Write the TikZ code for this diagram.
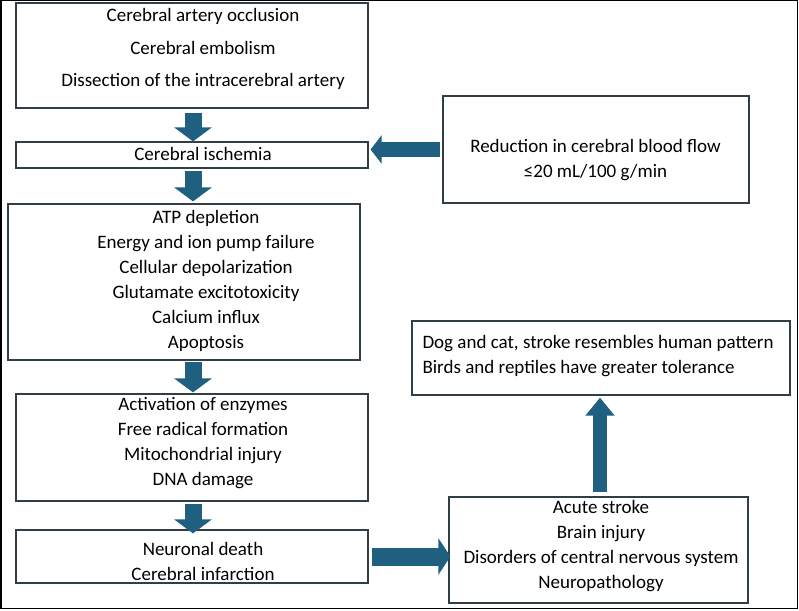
\documentclass[tikz,border=0pt]{standalone}
\usepackage{fontspec}
\setmainfont{Carlito}
\usepackage{xcolor}
\usetikzlibrary{arrows.meta}

\definecolor{flowblue}{RGB}{31,95,128}
\definecolor{boxline}{RGB}{50,62,70}

\begin{document}
\begin{tikzpicture}[
  x=1pt, y=-1pt,
  every node/.style={font=\fontsize{19}{25}\selectfont},
  box/.style={draw=boxline, line width=1.2pt, fill=white, inner sep=0pt},
  txt/.style={align=center, inner sep=0pt},
  flow/.style={draw=flowblue, line width=#1},
  flow/.default=17pt
]
\useasboundingbox (0,0) rectangle (799,610);
\draw[line width=1.5pt] (0.75,0.75) rectangle (797.5,608.5);

% left column
\node[box, minimum width=352pt, minimum height=105pt] (cause) at (192,55.5) {};
\node[box, minimum width=352pt, minimum height=26pt] (ischemia) at (192,155) {};
\node[box, minimum width=352pt, minimum height=156pt] (atp) at (184,282) {};
\node[box, minimum width=352pt, minimum height=107pt] (enzymes) at (192,447.5) {};
\node[box, minimum width=352pt, minimum height=53pt] (death) at (192,556.5) {};

\node[txt, font=\fontsize{19}{32.5}\selectfont] (causetxt) at (203,49) {Cerebral artery occlusion\\Cerebral embolism\\Dissection of the intracerebral artery};
\node[txt] (ischemiatxt) at (203,154) {Cerebral ischemia};
\node[txt] (atptxt) at (206,281) {ATP depletion\\Energy and ion pump failure\\Cellular depolarization\\Glutamate excitotoxicity\\Calcium influx\\Apoptosis};
\node[txt] (enzymestxt) at (203,443.5) {Activation of enzymes\\Free radical formation\\Mitochondrial injury\\DNA damage};
\node[txt] (deathtxt) at (203,561.5) {Neuronal death\\Cerebral infarction};

% right column
\node[box, minimum width=306pt, minimum height=107pt] (bloodflow) at (596,149.5) {};
\node[box, minimum width=378pt, minimum height=74pt] (species) at (601,358) {};
\node[box, minimum width=299pt, minimum height=106pt] (stroke) at (598.5,550) {};

\node[txt] (bloodflowtxt) at (595.5,160.5) {Reduction in cerebral blood flow\\≤20 mL/100 g/min};
\node[txt, align=left] (speciestxt) at (598,356) {Dog and cat, stroke resembles human pattern\\Birds and reptiles have greater tolerance};
\node[txt] (stroketxt) at (601,546.5) {Acute stroke\\Brain injury\\Disorders of central nervous system\\Neuropathology};

% block arrows
\coordinate (colx) at (193,0);
\coordinate (upx) at (600,0);
\draw[flow, -{Triangle[width=37pt,length=14pt]}, shorten <=4pt] (cause.south -| colx) -- (ischemia.north -| colx);
\draw[flow, -{Triangle[width=37pt,length=14pt]}, shorten <=2pt, shorten >=2pt] (ischemia.south -| colx) -- (atp.north -| colx);
\draw[flow, -{Triangle[width=37pt,length=14pt]}, shorten <=1pt, shorten >=1pt] (atp.south -| colx) -- (enzymes.north -| colx);
\draw[flow, -{Triangle[width=37pt,length=14pt]}, shorten <=2pt, shorten >=-4pt] (enzymes.south -| colx) -- (death.north -| colx);
\draw[flow=15pt, -{Triangle[width=28pt,length=11pt]}, shorten <=2pt, shorten >=2pt] (bloodflow.west) -- (bloodflow.west -| ischemia.east);
\draw[flow=18pt, -{Triangle[width=36pt,length=12pt]}, shorten <=3pt, shorten >=-2pt] (death.east) -- (death.east -| stroke.west);
\draw[flow=14pt, -{Triangle[width=28pt,length=18pt]}, shorten <=4pt, shorten >=2pt] (stroke.north -| upx) -- (species.south -| upx);
\end{tikzpicture}
\end{document}
